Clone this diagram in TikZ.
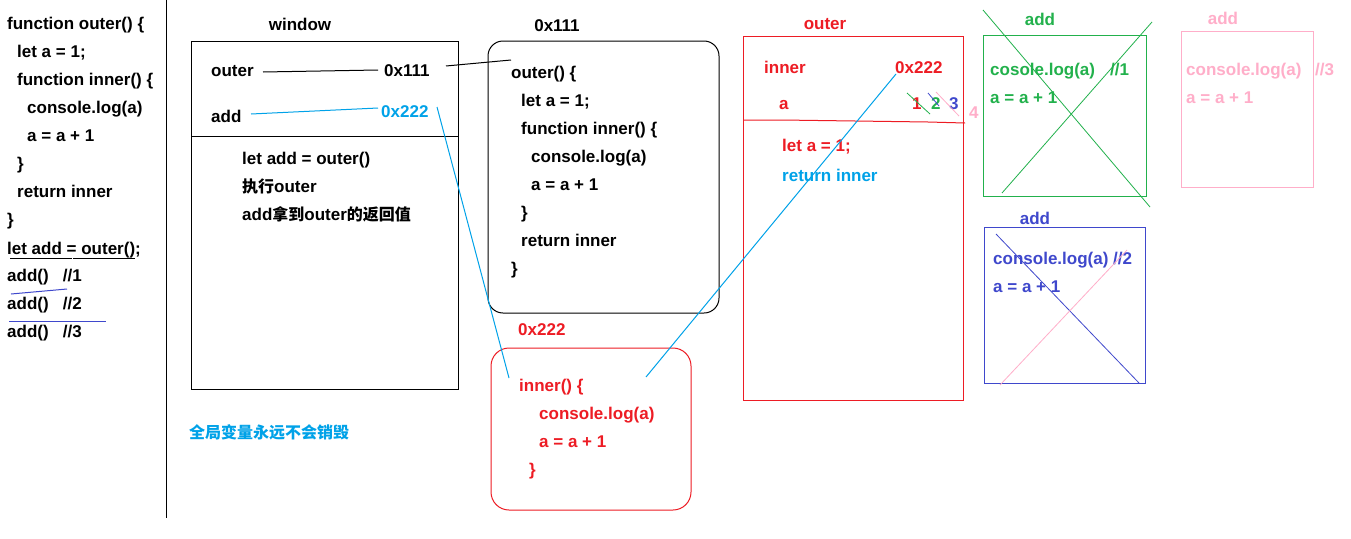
\documentclass[tikz,border=0pt]{standalone}
\usepackage{fontspec}
\setmainfont{Liberation Sans}
\newfontfamily\cjk{Noto Sans CJK SC}
\newcommand{\zh}[1]{{\cjk\bfseries\fontsize{16}{16}\selectfont #1}}
\definecolor{pred}{HTML}{ED1C24}
\definecolor{pcyan}{HTML}{00A2E8}
\definecolor{pgreen}{HTML}{22B14C}
\definecolor{pblue}{HTML}{3F48CC}
\definecolor{ppink}{HTML}{FFAEC9}
\tikzset{
  txt/.style={anchor=base west, inner sep=0pt, font=\bfseries\fontsize{17}{17}\selectfont},
  ctxt/.style={txt, anchor=base},
  box/.style={line width=1pt},
  wire/.style={line width=1pt},
}
\begin{document}
\begin{tikzpicture}[x=1pt,y=-1pt]
\useasboundingbox (0,0) rectangle (1351,538);
\fill[white] (0,0) rectangle (1351,538);

% separator between the source listing and the memory sketch
\draw[wire] (166,0) -- (166,518);

% source listing
\node[txt] (s1) at (7,29) {function outer() \{};
\node[txt] (s2) at (17,57) {let a = 1;};
\node[txt] (s3) at (17,85) {function inner() \{};
\node[txt] (s4) at (27,113) {console.log(a)};
\node[txt] (s5) at (27,141) {a = a + 1};
\node[txt] (s6) at (17,169) {\}};
\node[txt] (s7) at (17,197) {return inner};
\node[txt] (s8) at (7,225) {\}};
\node[txt] (s9) at (7,254) {let add = outer();};
\node[txt] (s10) at (7,281) {add()\ \ \ //1};
\node[txt] (s11) at (7,309) {add()\ \ \ //2};
\node[txt] (s12) at (7,337) {add()\ \ \ //3};
\coordinate (u1a) at (10,258); \coordinate (u1b) at (72,258);
\coordinate (u1c) at (73,258); \coordinate (u1d) at (135,258);
\draw[wire] (u1a) -- (u1b); \draw[wire] (u1c) -- (u1d);
\coordinate (u2a) at (11,294); \coordinate (u2b) at (67,289);
\draw[wire, pblue] (u2a) -- (u2b);
\coordinate (u3a) at (9,321); \coordinate (u3b) at (106,321);
\draw[wire, pblue] (u3a) -- (u3b);

% global scope (window)
\node[ctxt] (winlbl) at (300,30) {window};
\draw[box] (191,41) rectangle (458,389);
\draw[box] (191,136) -- (458,136);
\node[txt] (wouter) at (211,76) {outer};
\node[txt] (w111) at (384,76) {0x111};
\node[txt] (wadd) at (211,122) {add};
\node[txt, pcyan] (w222) at (381,117) {0x222};
\coordinate (wl1a) at (263,72); \coordinate (wl1b) at (378,70);
\draw[wire] (wl1a) -- (wl1b);
\coordinate (wl2a) at (251,114); \coordinate (wl2b) at (378,108);
\draw[wire, pcyan] (wl2a) -- (wl2b);
\node[txt] (w1) at (242,164) {let add = outer()};
\node[txt] (w2) at (242,192) {\zh{执行}outer};
\node[txt] (w3) at (242,220) {add\zh{拿到}outer\zh{的返回值}};
\node[txt, pcyan] (wnote) at (189,438) {\zh{全局变量永远不会销毁}};

% heap object 0x111 : outer
\node[ctxt] (h1lbl) at (557,31) {0x111};
\draw[box, rounded corners=15pt] (488,41) rectangle (719,313);
\node[txt] (o1) at (511,78) {outer() \{};
\node[txt] (o2) at (521,106) {let a = 1;};
\node[txt] (o3) at (521,134) {function inner() \{};
\node[txt] (o4) at (531,162) {console.log(a)};
\node[txt] (o5) at (531,190) {a = a + 1};
\node[txt] (o6) at (521,218) {\}};
\node[txt] (o7) at (521,246) {return inner};
\node[txt] (o8) at (511,274) {\}};
\coordinate (r111a) at (446,66); \coordinate (r111b) at (511,60);
\draw[wire] (r111a) -- (r111b);

% heap object 0x222 : inner
\node[txt, pred] (h2lbl) at (518,335) {0x222};
\draw[box, pred, rounded corners=18pt] (491,348) rectangle (691,510);
\node[txt, pred] (i1) at (519,391) {inner() \{};
\node[txt, pred] (i2) at (539,419) {console.log(a)};
\node[txt, pred] (i3) at (539,447) {a = a + 1};
\node[txt, pred] (i4) at (529,475) {\}};
\coordinate (r222a) at (437,107); \coordinate (r222b) at (509,378);
\draw[wire, pcyan] (r222a) -- (r222b);

% execution context of outer
\node[ctxt, pred] (olbl) at (825,29) {outer};
\draw[box, pred] (743,36) rectangle (963,400);
\draw[box, pred] (743,120) -- (781,120) -- (855,121) -- (928,122) -- (965,123);
\node[txt, pred] (oinner) at (764,73) {inner};
\node[txt, pred] (o222) at (895,73) {0x222};
\node[txt, pred] (oa) at (779,109) {a};
\node[txt, pred] (n1) at (912,109) {1};
\node[txt, pgreen] (n2) at (931,109) {2};
\node[txt, pblue] (n3) at (949,109) {3};
\node[txt, ppink] (n4) at (969,118) {4};
\coordinate (x1a) at (907,93); \coordinate (x1b) at (930,114);
\draw[line width=0.8pt, pgreen] (x1a) -- (x1b);
\coordinate (x2a) at (928,93); \coordinate (x2b) at (939,106);
\draw[line width=0.8pt, pblue] (x2a) -- (x2b);
\coordinate (x3a) at (936,92); \coordinate (x3b) at (959,116);
\draw[line width=0.8pt, ppink] (x3a) -- (x3b);
\node[txt, pred] (ol1) at (782,151) {let a = 1;};
\node[txt, pcyan] (ol2) at (782,181) {return inner};
\coordinate (rin1) at (646,377); \coordinate (rin2) at (896,74);
\draw[wire, pcyan] (rin1) -- (rin2);

% first call of add
\node[ctxt, pgreen] (g0) at (1040,25) {add};
\draw[box, pgreen] (983,35) rectangle (1146,196);
\node[txt, pgreen] (g1) at (990,75) {cosole.log(a)};
\node[txt, pgreen] (g2) at (1110,75) {//1};
\node[txt, pgreen] (g3) at (990,103) {a = a + 1};
\coordinate (gx1a) at (983,10); \coordinate (gx1b) at (1150,207);
\coordinate (gx2a) at (1002,193); \coordinate (gx2b) at (1152,22);
\draw[line width=0.8pt, pgreen] (gx1a) -- (gx1b);
\draw[line width=0.8pt, pgreen] (gx2a) -- (gx2b);

% second call of add
\node[ctxt, pblue] (b0) at (1035,224) {add};
\draw[box, pblue] (984,227) rectangle (1145,383);
\node[txt, pblue] (b1) at (993,264) {console.log(a) //2};
\node[txt, pblue] (b2) at (993,292) {a = a + 1};
\coordinate (bx1a) at (996,234); \coordinate (bx1b) at (1139,383);
\coordinate (bx2a) at (1000,385); \coordinate (bx2b) at (1127,250);
\draw[line width=0.8pt, pblue] (bx1a) -- (bx1b);
\draw[line width=0.8pt, ppink] (bx2a) -- (bx2b);

% third call of add
\node[ctxt, ppink] (p0) at (1223,24) {add};
\draw[box, ppink] (1181,31) rectangle (1313,187);
\node[txt, ppink] (p1) at (1186,75) {console.log(a)};
\node[txt, ppink] (p2) at (1315,75) {//3};
\node[txt, ppink] (p3) at (1186,103) {a = a + 1};
\end{tikzpicture}
\end{document}
